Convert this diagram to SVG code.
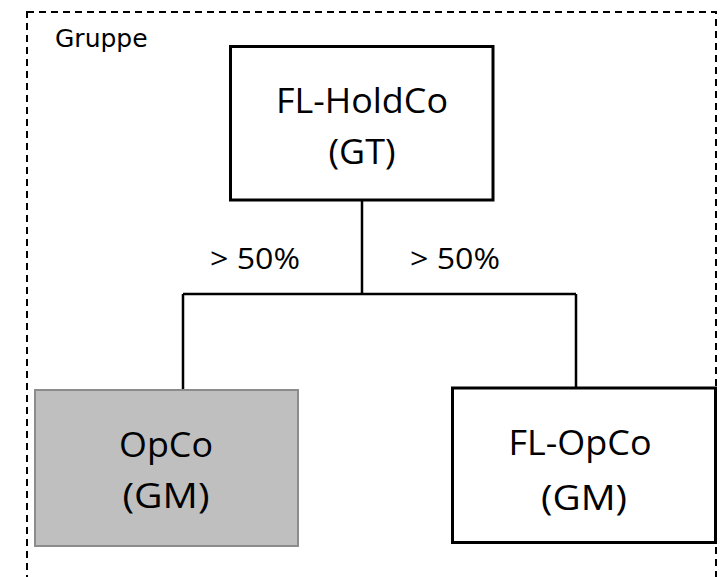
<svg xmlns="http://www.w3.org/2000/svg" width="724" height="577" viewBox="0 0 724 577">
<style>
.lbl{font-family:"Open Sans","Liberation Sans",sans-serif;font-size:35px;fill:#000;text-anchor:middle}
.pct{font-family:"Open Sans","Liberation Sans",sans-serif;font-size:30px;fill:#000;text-anchor:middle}
.box{fill:#fff;stroke:#000;stroke-width:3}
.conn{fill:none;stroke:#000;stroke-width:2.5}
</style>
<rect width="724" height="577" fill="#fff"/>
<g id="gruppe">
<rect x="27" y="12" width="689" height="580" fill="none" stroke="#000" stroke-width="2" stroke-dasharray="7 5"/>
<text x="55" y="47" font-family="DejaVu Sans,sans-serif" font-size="25">Gruppe</text>
</g>
<g id="connectors">
<path class="conn" d="M362 200V294M183 294H576M183 294V390M576 294V388"/>
<text class="pct" x="255" y="268.5" textLength="90" lengthAdjust="spacingAndGlyphs">&gt; 50%</text>
<text class="pct" x="455" y="268.5" textLength="90" lengthAdjust="spacingAndGlyphs">&gt; 50%</text>
</g>
<g id="holdco">
<rect class="box" x="230.5" y="46.5" width="262.5" height="153.5"/>
<text class="lbl" x="362" y="113" textLength="172" lengthAdjust="spacingAndGlyphs">FL-HoldCo</text>
<text class="lbl" x="362" y="164" textLength="67" lengthAdjust="spacingAndGlyphs">(GT)</text>
</g>
<g id="opco">
<rect x="35" y="390" width="263" height="156" fill="#bfbfbf" stroke="#8c8c8c" stroke-width="2"/>
<text class="lbl" x="166" y="457" textLength="94" lengthAdjust="spacingAndGlyphs">OpCo</text>
<text class="lbl" x="166" y="508" textLength="87" lengthAdjust="spacingAndGlyphs">(GM)</text>
</g>
<g id="flopco">
<rect class="box" x="452.5" y="388" width="263" height="154.5"/>
<text class="lbl" x="580" y="455" textLength="143" lengthAdjust="spacingAndGlyphs">FL-OpCo</text>
<text class="lbl" x="584" y="510" textLength="86" lengthAdjust="spacingAndGlyphs">(GM)</text>
</g>
</svg>
